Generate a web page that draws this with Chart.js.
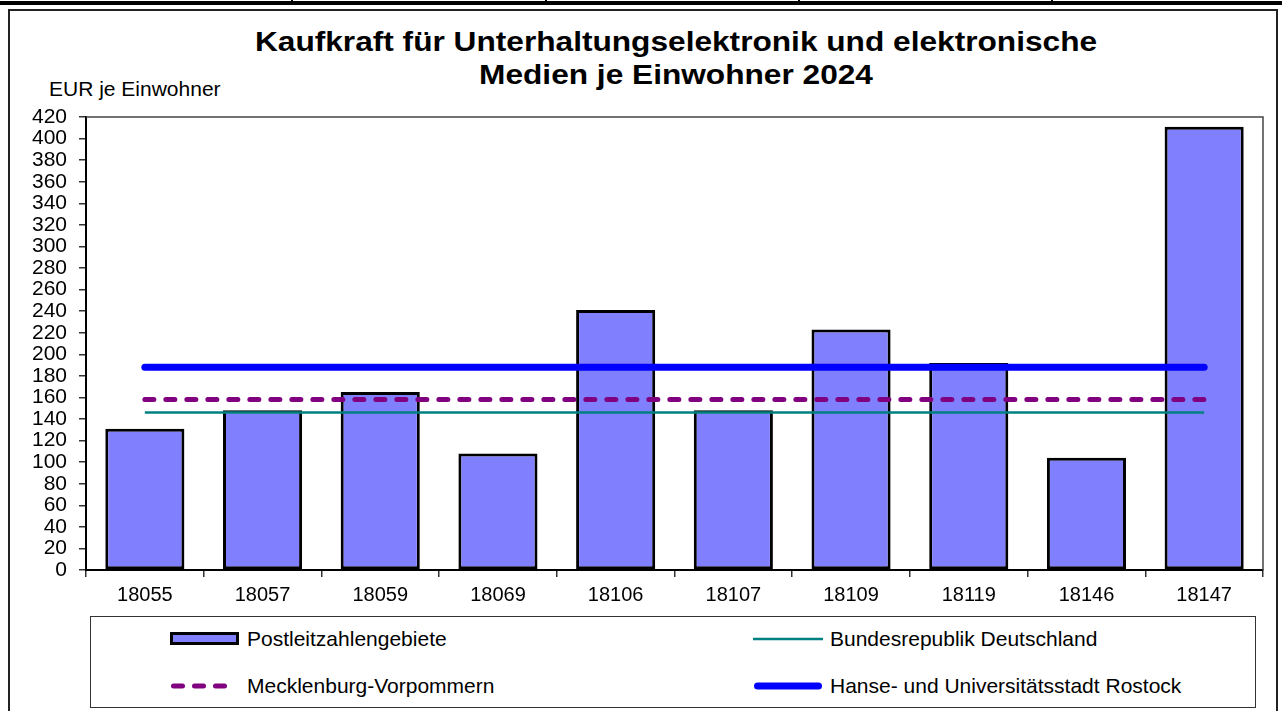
<!DOCTYPE html>
<html>
<head>
<meta charset="utf-8">
<script src="https://cdn.jsdelivr.net/npm/chart.js@4/dist/chart.umd.min.js"></script>
<style>
body { margin: 0; width: 1282px; height: 711px; overflow: hidden; background: #fff; position: relative;
       font-family: 'Liberation Sans', Arial, sans-serif; color: #000; }
#topbar { position: absolute; left: 0; top: 1px; width: 1282px; height: 4px; background: #000; }
.vsep { position: absolute; top: 0; width: 2px; height: 5px; background: #000; }
#frame { position: absolute; left: 8px; top: 9px; width: 1266px; height: 720px; border: 2px solid #222; }
#title { position: absolute; left: 276px; top: 25px; width: 800px; text-align: center; font-weight: bold;
         font-size: 28px; line-height: 33px; transform: scaleX(1.13); transform-origin: center; }
#unit { position: absolute; left: 49px; top: 79px; font-size: 20px; line-height: 20px; white-space: nowrap;
        transform: scaleX(1.05); transform-origin: left; }
#wrap { position: absolute; left: 0; top: 0; width: 1282px; height: 615px; }
#legend { position: absolute; left: 90px; top: 616px; width: 1164px; height: 90px; border: 1.5px solid #333; }
.item { position: absolute; height: 24px; }
.item svg { position: absolute; left: 0; top: 5px; }
.item span { position: absolute; top: 0; font-size: 21px; line-height: 24px; white-space: nowrap; }
</style>
</head>
<body>
<div id="topbar"></div>
<div class="vsep" style="left:291px"></div>
<div class="vsep" style="left:545px"></div>
<div class="vsep" style="left:798px"></div>
<div class="vsep" style="left:1051px"></div>
<div id="frame"></div>
<div id="title">Kaufkraft für Unterhaltungselektronik und elektronische<br>Medien je Einwohner 2024</div>
<div id="unit">EUR je Einwohner</div>
<div id="wrap"><canvas id="chart"></canvas></div>
<div id="legend"></div>
<script>
// Postleitzahlengebiete in Rostock
const zipCodes = ['18055', '18057', '18059', '18069', '18106', '18107', '18109', '18119', '18146', '18147'];
const areaValues = [131, 148, 165, 108, 241, 148, 223, 192, 104, 411];

// Vergleichswerte (EUR je Einwohner)
const germanyValue = 146;
const mvValue = 158;
const rostockValue = 188;

const yMin = 0;
const yMax = 420;
const yStep = 20;

Chart.defaults.font.family = "'Liberation Sans', Arial, sans-serif";
Chart.defaults.color = '#000';

const plotFrame = {
    id: 'plotFrame',
    beforeDatasetsDraw(chart) {
        const a = chart.chartArea;
        const ctx = chart.ctx;
        ctx.save();
        ctx.strokeStyle = '#444';
        ctx.lineWidth = 1.5;
        ctx.beginPath();
        ctx.moveTo(a.left, a.top);
        ctx.lineTo(a.right, a.top);
        ctx.lineTo(a.right, a.bottom);
        ctx.stroke();
        ctx.restore();
    }
};

const ctx = document.getElementById('chart').getContext('2d');
const chart = new Chart(ctx, {
    data: {
        labels: zipCodes,
        datasets: [
            {
                type: 'bar',
                label: 'Postleitzahlengebiete',
                data: areaValues,
                backgroundColor: '#8080FF',
                borderColor: '#000',
                borderWidth: 3,
                borderSkipped: false,
                barPercentage: 0.672,
                categoryPercentage: 1,
                order: 4
            },
            {
                type: 'line',
                label: 'Bundesrepublik Deutschland',
                data: zipCodes.map(() => germanyValue),
                borderColor: '#008080',
                borderWidth: 2.5,
                pointRadius: 0,
                fill: false,
                order: 3
            },
            {
                type: 'line',
                label: 'Mecklenburg-Vorpommern',
                data: zipCodes.map(() => mvValue),
                borderColor: '#800080',
                borderWidth: 5,
                borderDash: [9, 12],
                borderCapStyle: 'round',
                pointRadius: 0,
                fill: false,
                order: 2
            },
            {
                type: 'line',
                label: 'Hanse- und Universitätsstadt Rostock',
                data: zipCodes.map(() => rostockValue),
                borderColor: '#0000FF',
                borderWidth: 7,
                borderCapStyle: 'round',
                pointRadius: 0,
                fill: false,
                order: 1
            }
        ]
    },
    options: {
        responsive: true,
        maintainAspectRatio: false,
        animation: false,
        layout: { padding: { top: 117, right: 19, bottom: 5, left: 0 } },
        plugins: {
            legend: { display: false },
            tooltip: { enabled: false }
        },
        scales: {
            x: {
                offset: true,
                grid: { display: true, drawOnChartArea: false, offset: true, tickLength: 7, color: '#333', lineWidth: 1.5 },
                border: { display: true, color: '#000', width: 2 },
                ticks: { font: { size: 20 }, padding: 6, maxRotation: 0 },
                afterFit(scale) { scale.height = 40; }
            },
            y: {
                min: yMin,
                max: yMax,
                grid: { display: true, drawOnChartArea: false, tickLength: 7, color: '#333', lineWidth: 1.5 },
                border: { display: true, color: '#000', width: 2 },
                ticks: { stepSize: yStep, font: { size: 21 }, padding: 12, autoSkip: false },
                afterFit(scale) { scale.width = 86; }
            }
        }
    },
    plugins: [plotFrame]
});

// Legende in zwei Spalten aus den Datensaetzen aufbauen
function swatchFor(ds) {
    if (ds.type === 'bar') {
        return '<svg width="70" height="14"><rect x="1.5" y="1.5" width="66" height="10" fill="' +
            ds.backgroundColor + '" stroke="#000" stroke-width="3"/></svg>';
    }
    const w = ds.borderWidth;
    const dash = ds.borderDash ? ' stroke-dasharray="' + ds.borderDash.join(',') + '"' : '';
    const cap = ds.borderCapStyle === 'round' ? 'round' : 'butt';
    const pad = cap === 'round' ? w / 2 + 1 : 0;
    return '<svg width="70" height="14"><line x1="' + pad + '" y1="7" x2="' + (70 - pad) + '" y2="7" stroke="' +
        ds.borderColor + '" stroke-width="' + w + '" stroke-linecap="' + cap + '"' + dash + '/></svg>';
}

const legendSlots = [
    { left: 79, top: 10 },
    { left: 662, top: 10 },
    { left: 79, top: 57 },
    { left: 662, top: 57 }
];
const legendEl = document.getElementById('legend');
chart.data.datasets.forEach((ds, i) => {
    const slot = legendSlots[i];
    const item = document.createElement('div');
    item.className = 'item';
    item.style.left = slot.left + 'px';
    item.style.top = slot.top + 'px';
    item.innerHTML = swatchFor(ds) + '<span style="left:77px">' + ds.label + '</span>';
    legendEl.appendChild(item);
});
</script>
</body>
</html>
